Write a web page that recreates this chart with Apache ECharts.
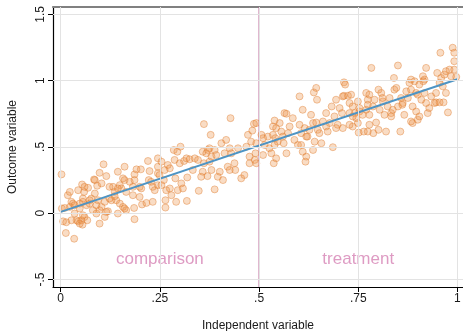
<!DOCTYPE html>
<html><head><meta charset="utf-8">
<script src="https://cdn.jsdelivr.net/npm/echarts@6/dist/echarts.min.js"></script>
<style>html,body{margin:0;padding:0;background:#fff}#c{width:463px;height:331px}</style>
</head><body><div id="c"></div>
<script>
// Scatter points [independent variable, outcome variable]
const points = [
[0.002,0.293],[0.003,0.036],[0.006,-0.061],[0.014,-0.068],[0.013,-0.149],[0.034,-0.192],[0.018,0.136],[0.023,0.161],[0.027,0.086],[0.031,0.073],[0.023,0.048],[0.035,-0.002],[0.044,0.174],[0.054,0.217],[0.056,0.111],[0.059,0.161],[0.069,0.192],[0.048,0.073],[0.060,-0.028],[0.052,-0.053],[0.044,-0.061],[0.055,-0.086],[0.067,-0.053],[0.065,0.061],[0.073,0.073],[0.077,0.111],[0.084,0.255],[0.092,0.207],[0.098,0.305],[0.108,0.369],[0.115,0.280],[0.103,0.225],[0.086,0.149],[0.094,0.098],[0.081,0.023],[0.090,-0.002],[0.103,0.048],[0.111,0.086],[0.098,-0.078],[0.111,-0.028],[0.119,0.015],[0.123,0.111],[0.132,0.199],[0.136,0.161],[0.144,0.313],[0.149,0.212],[0.153,0.187],[0.161,0.351],[0.161,0.250],[0.165,0.161],[0.149,0.073],[0.144,-0.002],[0.157,0.048],[0.165,0.023],[0.182,0.136],[0.185,0.040],[0.186,-0.045],[0.174,0.237],[0.182,0.199],[0.186,0.293],[0.191,0.331],[0.202,0.331],[0.199,0.123],[0.205,0.066],[0.216,0.078],[0.220,0.394],[0.222,0.250],[0.228,0.237],[0.224,0.318],[0.232,0.086],[0.237,0.174],[0.245,0.301],[0.245,0.212],[0.203,0.187],[0.140,0.098],[0.035,0.061],[0.010,0.040],
[0.056,0.086],[0.060,0.199],[0.048,0.036],[0.056,-0.015],[0.040,-0.053],[0.027,-0.053],[0.048,-0.078],[0.086,0.250],[0.123,0.199],[0.073,0.098],[0.090,0.061],[0.098,0.023],[0.115,0.010],[0.128,0.098],[0.136,0.129],[0.144,0.187],[0.157,0.263],[0.161,0.036],[0.186,0.250],[0.199,0.199],[0.232,0.199],[0.245,0.414],
[0.245,0.351],[0.254,0.389],[0.249,0.288],[0.254,0.212],[0.260,0.250],[0.262,0.326],[0.270,0.364],[0.275,0.339],[0.266,0.174],[0.275,0.187],[0.279,0.136],[0.264,0.098],[0.264,0.043],[0.285,0.477],[0.294,0.464],[0.302,0.502],[0.287,0.402],[0.289,0.263],[0.300,0.377],[0.311,0.394],[0.317,0.414],[0.304,0.225],[0.295,0.174],[0.308,0.187],[0.319,0.270],[0.325,0.407],[0.318,0.093],[0.338,0.414],[0.346,0.402],[0.361,0.672],[0.358,0.464],[0.361,0.377],[0.358,0.313],[0.354,0.275],[0.348,0.169],[0.367,0.452],[0.371,0.477],[0.378,0.591],[0.375,0.490],[0.380,0.427],[0.375,0.389],[0.370,0.280],[0.380,0.326],[0.388,0.477],[0.392,0.439],[0.388,0.180],[0.396,0.275],[0.401,0.313],[0.405,0.528],[0.409,0.250],[0.413,0.452],[0.417,0.553],[0.421,0.351],[0.426,0.490],[0.428,0.717],[0.430,0.452],[0.438,0.377],[0.440,0.326],[0.426,0.326],[0.447,0.490],[0.455,0.263],[0.463,0.288],[0.468,0.502],[0.472,0.591],[0.476,0.427],[0.480,0.540],[0.476,0.377],[0.483,0.623],[0.487,0.674],[0.489,0.402],[0.493,0.528],
[0.291,0.086],[0.333,0.326],[0.493,0.377],[0.506,0.591],[0.522,0.578],[0.539,0.699],[0.535,0.654],[0.564,0.755],[0.585,0.717],[0.610,0.780],[0.619,0.427],[0.617,0.389],[0.569,0.452],[0.537,0.377],
[0.493,0.680],[0.491,0.452],[0.510,0.566],[0.514,0.515],[0.510,0.439],[0.526,0.490],[0.531,0.452],[0.543,0.642],[0.535,0.591],[0.541,0.566],[0.547,0.540],[0.539,0.515],[0.543,0.414],[0.552,0.680],[0.556,0.616],[0.560,0.578],[0.562,0.528],[0.569,0.750],[0.573,0.604],[0.577,0.654],[0.589,0.553],[0.598,0.515],[0.602,0.881],[0.602,0.667],[0.606,0.604],[0.610,0.464],[0.615,0.642],[0.622,0.578],[0.627,0.629],[0.631,0.742],[0.636,0.680],[0.636,0.477],[0.640,0.540],[0.638,0.911],[0.644,0.945],[0.646,0.856],[0.648,0.629],[0.652,0.604],[0.657,0.528],[0.661,0.692],[0.669,0.755],[0.669,0.654],[0.673,0.616],[0.678,0.680],[0.683,0.805],[0.686,0.498],[0.690,0.730],[0.694,0.856],[0.698,0.667],[0.703,0.793],[0.709,0.755],[0.711,0.642],[0.714,0.987],[0.717,0.970],[0.714,0.886],[0.724,0.886],[0.728,0.831],[0.732,0.894],[0.736,0.805],[0.741,0.755],[0.736,0.654],[0.745,0.717],[0.749,0.843],
[0.606,0.515],[0.619,0.578],[0.644,0.684],[0.694,0.642],[0.728,0.667],[0.751,0.608],[0.764,0.616],[0.774,0.616],[0.788,0.604],[0.801,0.629],[0.820,0.616],[0.856,0.616],[0.778,0.667],[0.795,0.684],[0.887,0.680],[0.900,0.705],[0.925,0.755],[0.929,0.793],[0.976,0.760],[0.946,0.836],[0.955,0.836],[0.965,0.836],[0.866,0.742],[0.833,0.755],
[0.753,0.793],[0.749,0.680],[0.770,0.907],[0.774,0.856],[0.770,0.780],[0.778,0.742],[0.783,1.096],[0.787,0.805],[0.791,0.856],[0.801,0.932],[0.804,0.780],[0.808,0.907],[0.812,0.843],[0.816,0.742],[0.824,0.805],[0.829,0.869],[0.833,0.730],[0.837,0.780],[0.840,1.020],[0.841,0.932],[0.846,0.945],[0.850,1.114],[0.850,0.805],[0.858,0.869],[0.862,0.831],[0.871,0.919],[0.875,0.869],[0.879,0.983],[0.883,0.932],[0.883,0.692],[0.887,0.805],[0.892,0.995],[0.896,0.907],[0.896,0.767],[0.900,0.894],[0.904,0.970],[0.904,0.730],[0.909,0.856],[0.913,1.033],[0.917,1.008],[0.917,0.907],[0.921,1.096],[0.921,0.831],[0.934,0.881],[0.942,0.831],[0.946,0.907],[0.949,1.058],[0.955,0.983],[0.957,1.210],[0.959,1.020],[0.963,0.957],[0.967,1.045],[0.971,0.907],[0.980,1.083],[0.984,1.033],[0.988,1.248],[0.992,1.210],[0.992,1.146],[0.992,1.083],[0.997,1.028],
[0.883,1.008],[0.711,0.881],[0.778,0.894],[0.774,0.818],[0.811,0.869],[0.861,0.818],[0.914,0.995],[0.971,1.071],[0.728,0.755],[0.736,0.730],[0.753,0.767],[0.761,0.742]
];
// Fitted line
const fitX = [0, 1];
const fitY = [0.01, 1.01];
// Tick labels
const xTicks = [0, 0.25, 0.5, 0.75, 1];
const yTicks = [-0.5, 0, 0.5, 1, 1.5];
// Cutoff and group labels
const cutoff = 0.5;
const groupNames = ['comparison', 'treatment'];
const groupX = [0.25, 0.75];
const groupY = [-0.35, -0.35];

function fmt(v) {
  return String(v).replace(/^0\./, '.').replace(/^-0\./, '-.');
}

const FONT = 'Liberation Sans, Arial, Helvetica, sans-serif';
const xMin = -0.0194, xMax = 1.014, yMin = -0.556, yMax = 1.555;

const gridLines = [];
xTicks.forEach(v => gridLines.push({ xAxis: v }));
yTicks.forEach(v => gridLines.push({ yAxis: v }));

const chart = echarts.init(document.getElementById('c'), null, { renderer: 'canvas' });
chart.setOption({
  animation: false,
  backgroundColor: '#fff',
  grid: { left: 53, right: 0, top: 7, bottom: 44, containLabel: false, outerBoundsMode: 'none' },
  xAxis: [{
    type: 'value', min: xMin, max: xMax, position: 'bottom',
    name: 'Independent variable', nameLocation: 'middle', nameGap: 33,
    nameTextStyle: { fontFamily: FONT, fontSize: 12, color: '#1a1a1a' },
    axisLine: { show: true, onZero: false, lineStyle: { color: '#000', width: 1.2 } },
    axisTick: { show: true, length: 5, customValues: xTicks, lineStyle: { color: '#000' } },
    axisLabel: { customValues: xTicks, formatter: fmt, fontFamily: FONT, fontSize: 12, color: '#1a1a1a', margin: 6 },
    splitLine: { show: false }
  }, {
    type: 'value', min: xMin, max: xMax, position: 'top',
    axisLine: { show: true, onZero: false, lineStyle: { color: '#808080', width: 2.2 } },
    axisTick: { show: false }, axisLabel: { show: false }, splitLine: { show: false }
  }],
  yAxis: {
    type: 'value', min: yMin, max: yMax,
    name: 'Outcome variable', nameLocation: 'middle', nameGap: 34, nameRotate: 90,
    nameTextStyle: { fontFamily: FONT, fontSize: 12, color: '#1a1a1a' },
    axisLine: { show: true, onZero: false, lineStyle: { color: '#000', width: 1.2 } },
    axisTick: { show: true, length: 5, customValues: yTicks, lineStyle: { color: '#000' } },
    axisLabel: { customValues: yTicks, formatter: fmt, rotate: 90, fontFamily: FONT, fontSize: 12, color: '#1a1a1a', margin: 6 },
    splitLine: { show: false }
  },
  series: [
    {
      type: 'line', data: [], silent: true, z: 0,
      markLine: { silent: true, symbol: 'none', label: { show: false },
        lineStyle: { color: '#e3e3e3', width: 1, type: 'solid' }, data: gridLines }
    },
    {
      type: 'line', silent: true, z: 1, symbol: 'none',
      data: [[cutoff, yMin], [cutoff, yMax]],
      itemStyle: { color: '#b85a91' },
      lineStyle: { color: '#b85a91', width: 1 }
    },
    {
      type: 'scatter', data: points, symbol: 'circle', symbolSize: 7, z: 2,
      itemStyle: { color: 'rgba(236,145,70,0.4)', borderColor: 'rgba(222,120,40,0.52)', borderWidth: 1 }
    },
    {
      type: 'line', data: fitX.map((x, i) => [x, fitY[i]]), symbol: 'none', z: 3,
      lineStyle: { color: '#4d94c4', width: 2 }
    },
    {
      type: 'scatter', symbolSize: 0, z: 4, silent: true,
      data: groupNames.map((n, i) => [groupX[i], groupY[i], n]),
      label: { show: true, position: 'inside', formatter: p => p.value[2],
        fontFamily: FONT, fontSize: 17, color: '#d682b4' }
    }
  ]
});
</script>
</body></html>
